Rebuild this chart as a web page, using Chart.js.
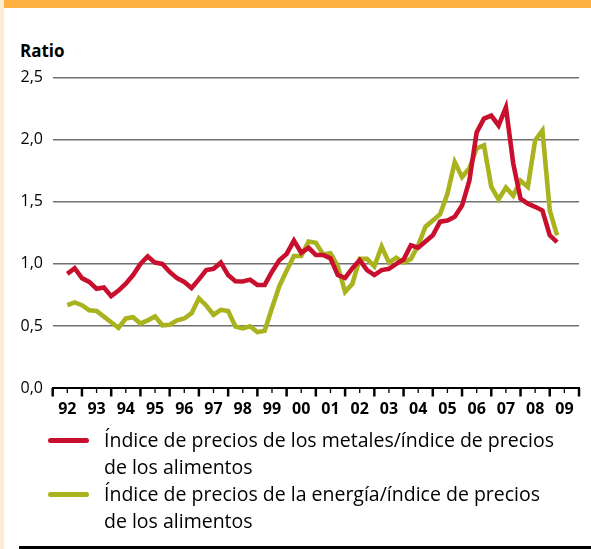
<!DOCTYPE html>
<html>
<head>
<meta charset="utf-8">
<script src="https://cdn.jsdelivr.net/npm/chart.js@4.4.1/dist/chart.umd.min.js"></script>
<style>
html,body{margin:0;padding:0;background:#fff;}
body{width:591px;height:549px;position:relative;overflow:hidden;font-family:"Open Sans",sans-serif;color:#000;}
#strip{position:absolute;left:0;top:0;width:4px;height:549px;background:#FEEBD3;}
#band{position:absolute;left:4px;top:0;right:0;height:7.5px;background:#FDB140;}
#rule{position:absolute;left:19px;right:0;top:545.7px;height:3.3px;background:#000;}
#ratio{position:absolute;left:20px;top:42px;font-weight:bold;font-size:17px;line-height:17px;}
#wrap{position:absolute;left:0;top:0;width:591px;height:430px;}
#legend{position:absolute;left:0;top:427.2px;width:591px;}
.item{position:relative;padding-left:104px;font-size:19.5px;line-height:26.8px;white-space:nowrap;}
.sw{position:absolute;left:47.7px;width:41.6px;height:5px;border-radius:2.5px;top:11.3px;}
</style>
</head>
<body>
<div id="strip"></div>
<div id="band"></div>
<div id="ratio">Ratio</div>
<div id="wrap"><canvas id="c" width="591" height="430"></canvas></div>
<div id="legend"></div>
<div id="rule"></div>
<script>
// Quarterly observation dates (decimal years)
const periods = [
 1992.5,1992.75,1993,1993.25,1993.5,1993.75,1994,1994.25,1994.5,1994.75,
 1995,1995.25,1995.5,1995.75,1996,1996.25,1996.5,1996.75,1997,1997.25,
 1997.5,1997.75,1998,1998.25,1998.5,1998.75,1999,1999.25,1999.5,1999.75,
 2000,2000.25,2000.5,2000.75,2001,2001.25,2001.5,2001.75,2002,2002.25,
 2002.5,2002.75,2003,2003.25,2003.5,2003.75,2004,2004.25,2004.5,2004.75,
 2005,2005.25,2005.5,2005.75,2006,2006.25,2006.5,2006.75,2007,2007.25,
 2007.5,2007.75,2008,2008.25,2008.5,2008.75,2009,2009.25
];
// Metals price index / food price index
const metalsRatio = [
 0.92,0.965,0.885,0.855,0.80,0.81,0.74,0.785,0.84,0.91,
 1.00,1.06,1.01,1.00,0.935,0.885,0.855,0.805,0.875,0.95,
 0.96,1.01,0.91,0.86,0.858,0.873,0.83,0.83,0.937,1.03,
 1.08,1.187,1.09,1.13,1.072,1.072,1.045,0.91,0.887,0.965,
 1.03,0.95,0.91,0.95,0.96,1.00,1.035,1.15,1.13,1.18,
 1.23,1.34,1.35,1.38,1.47,1.67,2.06,2.17,2.195,2.115,
 2.26,1.81,1.525,1.485,1.46,1.43,1.23,1.175
];
// Energy price index / food price index
const energyRatio = [
 0.667,0.69,0.667,0.627,0.62,0.575,0.53,0.485,0.56,0.57,
 0.52,0.545,0.577,0.505,0.51,0.545,0.56,0.603,0.723,0.665,
 0.59,0.63,0.62,0.495,0.48,0.498,0.45,0.462,0.645,0.82,
 0.945,1.063,1.063,1.18,1.17,1.075,1.085,0.982,0.775,0.84,
 1.04,1.04,0.98,1.14,1.01,1.05,1.01,1.04,1.15,1.30,
 1.35,1.40,1.565,1.82,1.70,1.77,1.93,1.955,1.62,1.52,
 1.615,1.55,1.67,1.62,1.995,2.075,1.43,1.23
];
const seriesNames = [
 ["Índice de precios de los metales/índice de precios", "de los alimentos"],
 ["Índice de precios de la energía/índice de precios", "de los alimentos"]
];
const seriesColors = ["#C8102E", "#A9B31E"];
const yearLabels = ["92","93","94","95","96","97","98","99","00","01","02","03","04","05","06","07","08","09"];
const yTickLabels = ["0,0","0,5","1,0","1,5","2,0","2,5"];

Chart.defaults.font.family = '"Open Sans", sans-serif';
Chart.defaults.color = '#000';

const tickMarks = {
  id: 'tickMarks',
  afterDraw(chart) {
    const s = chart.scales.x, ctx = chart.ctx, y0 = chart.chartArea.bottom;
    ctx.save();
    ctx.strokeStyle = '#000';
    s.ticks.forEach(t => {
      const px = s.getPixelForValue(t.value);
      const major = Math.abs(t.value - Math.round(t.value)) < 1e-6;
      ctx.lineWidth = major ? 2.5 : 1.3;
      ctx.beginPath();
      ctx.moveTo(px, y0);
      ctx.lineTo(px, y0 + (major ? 8.5 : 5));
      ctx.stroke();
    });
    ctx.restore();
  }
};

const htmlLegend = {
  id: 'htmlLegend',
  afterUpdate(chart) {
    const box = document.getElementById('legend');
    box.innerHTML = '';
    chart.data.datasets.forEach(ds => {
      const lines = Array.isArray(ds.label) ? ds.label : [ds.label];
      lines.forEach((line, i) => {
        const d = document.createElement('div');
        d.className = 'item';
        if (i === 0) {
          const sw = document.createElement('span');
          sw.className = 'sw';
          sw.style.background = ds.borderColor;
          d.appendChild(sw);
        }
        d.appendChild(document.createTextNode(line));
        box.appendChild(d);
      });
    });
  }
};

const mkData = arr => periods.map((p, i) => ({x: p, y: arr[i]}));

new Chart(document.getElementById('c'), {
  type: 'line',
  data: {
    datasets: [
      {label: seriesNames[0], data: mkData(metalsRatio), borderColor: seriesColors[0], backgroundColor: seriesColors[0], borderWidth: 4.6, pointRadius: 0, tension: 0, fill: false},
      {label: seriesNames[1], data: mkData(energyRatio), borderColor: seriesColors[1], backgroundColor: seriesColors[1], borderWidth: 4.6, pointRadius: 0, tension: 0, fill: false}
    ]
  },
  options: {
    responsive: false,
    devicePixelRatio: 1,
    animation: false,
    layout: {autoPadding: false, padding: {top: 77.7, right: 10.3, bottom: 0, left: 0}},
    plugins: {legend: {display: false}, tooltip: {enabled: false}},
    scales: {
      x: {
        type: 'linear', min: 1992, max: 2010,
        afterFit: s => { s.height = 42; },
        grid: {display: false, drawTicks: false},
        border: {display: true, color: '#000', width: 2},
        ticks: {
          stepSize: 0.5, autoSkip: false, maxRotation: 0, minRotation: 0, padding: 12,
          font: {size: 16, weight: 'bold'}, color: '#000',
          callback: v => {
            const i = Math.floor(v) - 1992;
            return (Math.abs(v - Math.floor(v) - 0.5) < 1e-6 && i >= 0 && i < yearLabels.length) ? yearLabels[i] : '';
          }
        }
      },
      y: {
        min: 0, max: 2.5,
        afterFit: s => { s.width = 52.7; },
        grid: {color: '#707070', lineWidth: 1.5, drawTicks: false},
        border: {display: false},
        ticks: {stepSize: 0.5, padding: 9.7, font: {size: 16}, color: '#000',
          callback: (v, i) => yTickLabels[i]}
      }
    }
  },
  plugins: [tickMarks, htmlLegend]
});
</script>
</body>
</html>
